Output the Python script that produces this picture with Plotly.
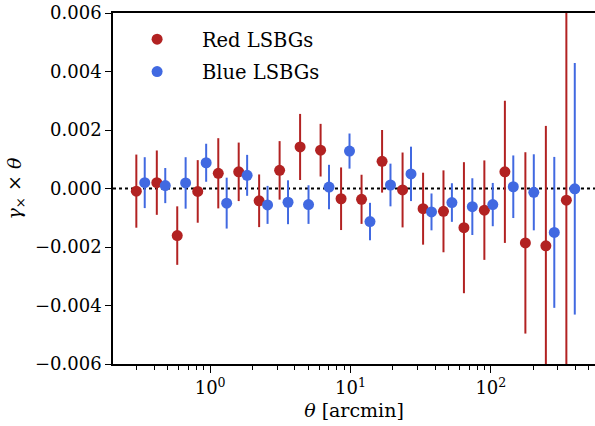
import plotly.graph_objects as go

theta_red = [0.298, 0.417, 0.583, 0.816, 1.143, 1.598, 2.234, 3.126, 4.375, 6.124, 8.57,
             11.99, 16.79, 23.5, 32.9, 45.97, 64.3, 89.9, 125.9, 176.2, 246.6, 345.1]
theta_blue = [0.342, 0.479, 0.669, 0.937, 1.312, 1.835, 2.565, 3.589, 5.023, 7.031, 9.84,
              13.77, 19.27, 26.98, 37.77, 52.78, 73.8, 103.2, 144.5, 202.3, 283.1, 396.2]

gx_red = [-0.00009, 0.0002, -0.00161, -0.0001, 0.00052, 0.00057, -0.00042, 0.00062, 0.00142,
          0.00131, -0.00035, -0.00037, 0.00093, -0.00005, -0.00069, -0.00078, -0.00134,
          -0.00074, 0.00057, -0.00186, -0.00196, -0.0004]
err_red = [0.00125, 0.0011, 0.001, 0.00107, 0.0012, 0.001, 0.0009, 0.001, 0.00113, 0.0009,
           0.00107, 0.00084, 0.00107, 0.00128, 0.00123, 0.0014, 0.00224, 0.0017, 0.00243,
           0.0031, 0.0041, 0.0075]

gx_blue = [0.0002, 0.0001, 0.00019, 0.00088, -0.0005, 0.00045, -0.00056, -0.00047, -0.00055,
           0.00005, 0.00128, -0.00113, 0.00012, 0.0005, -0.0008, -0.00048, -0.00062, -0.00055,
           0.00006, -0.00013, -0.0015, -0.00001]
err_blue = [0.00087, 0.0006, 0.00088, 0.00065, 0.00087, 0.0007, 0.00065, 0.00075, 0.00066,
            0.00076, 0.0006, 0.00064, 0.00073, 0.00093, 0.00063, 0.00066, 0.00097, 0.00074,
            0.00107, 0.0013, 0.00258, 0.0043]

names = ["Red LSBGs", "Blue LSBGs"]
xtick_vals = [1, 10, 100]
xtick_text = ["10<sup>0</sup>", "10<sup>1</sup>", "10<sup>2</sup>"]
ytick_vals = [-0.006, -0.004, -0.002, 0.0, 0.002, 0.004, 0.006]
ytick_text = ["\u22120.006", "\u22120.004", "\u22120.002", "0.000", "0.002", "0.004", "0.006"]

minor_vals = [m * 10.0 ** d for d in (-1, 0, 1, 2) for m in range(2, 10)]

RED = "#b22222"
BLUE = "#4169e1"
FONT = "DejaVu Serif"

fig = go.Figure()
for x, y, e, c, n in [(theta_red, gx_red, err_red, RED, names[0]),
                      (theta_blue, gx_blue, err_blue, BLUE, names[1])]:
    fig.add_trace(go.Scatter(
        x=x, y=y, mode="markers", name="\u00a0\u00a0\u00a0\u00a0" + n, legendgroup=n,
        marker=dict(color=c, size=11, line=dict(width=0)),
        error_y=dict(type="data", array=e, visible=True, color=c, thickness=2, width=0),
    ))

fig.add_hline(y=0, line=dict(color="black", width=2, dash="dot"), layer="below")

fig.update_layout(
    width=595, height=426,
    margin=dict(l=113, r=0, t=13, b=62),
    paper_bgcolor="white", plot_bgcolor="white",
    font=dict(family=FONT, size=18, color="black"),
    showlegend=True,
    legend=dict(x=0.05, y=0.98, xanchor="left", yanchor="top",
                bgcolor="rgba(0,0,0,0)", font=dict(family=FONT, size=19.5), tracegroupgap=4),
)
fig.update_xaxes(
    type="log", range=[-0.692, 2.742],
    tickvals=xtick_vals, ticktext=xtick_text,
    tickfont=dict(family=FONT, size=18),
    ticks="outside", ticklen=7, tickwidth=1, tickcolor="black",
    minor=dict(tickmode="array", tickvals=minor_vals, ticks="outside", ticklen=4,
               tickwidth=1, tickcolor="black", showgrid=False),
    showline=True, linecolor="black", linewidth=1.5, mirror=True,
    showgrid=False, zeroline=False,
    title=dict(text="<i>θ</i> [arcmin]", font=dict(family=FONT, size=19), standoff=6),
)
fig.update_yaxes(
    range=[-0.006, 0.006],
    tickvals=ytick_vals, ticktext=ytick_text,
    tickfont=dict(family=FONT, size=18),
    ticks="outside", ticklen=6, tickwidth=1, tickcolor="black",
    showline=True, linecolor="black", linewidth=1.5,
    showgrid=False, zeroline=False,
    title=dict(text="<i>γ</i><sub>×</sub> × <i>θ</i>", font=dict(family=FONT, size=19), standoff=8),
)

fig.write_html("out.html")
